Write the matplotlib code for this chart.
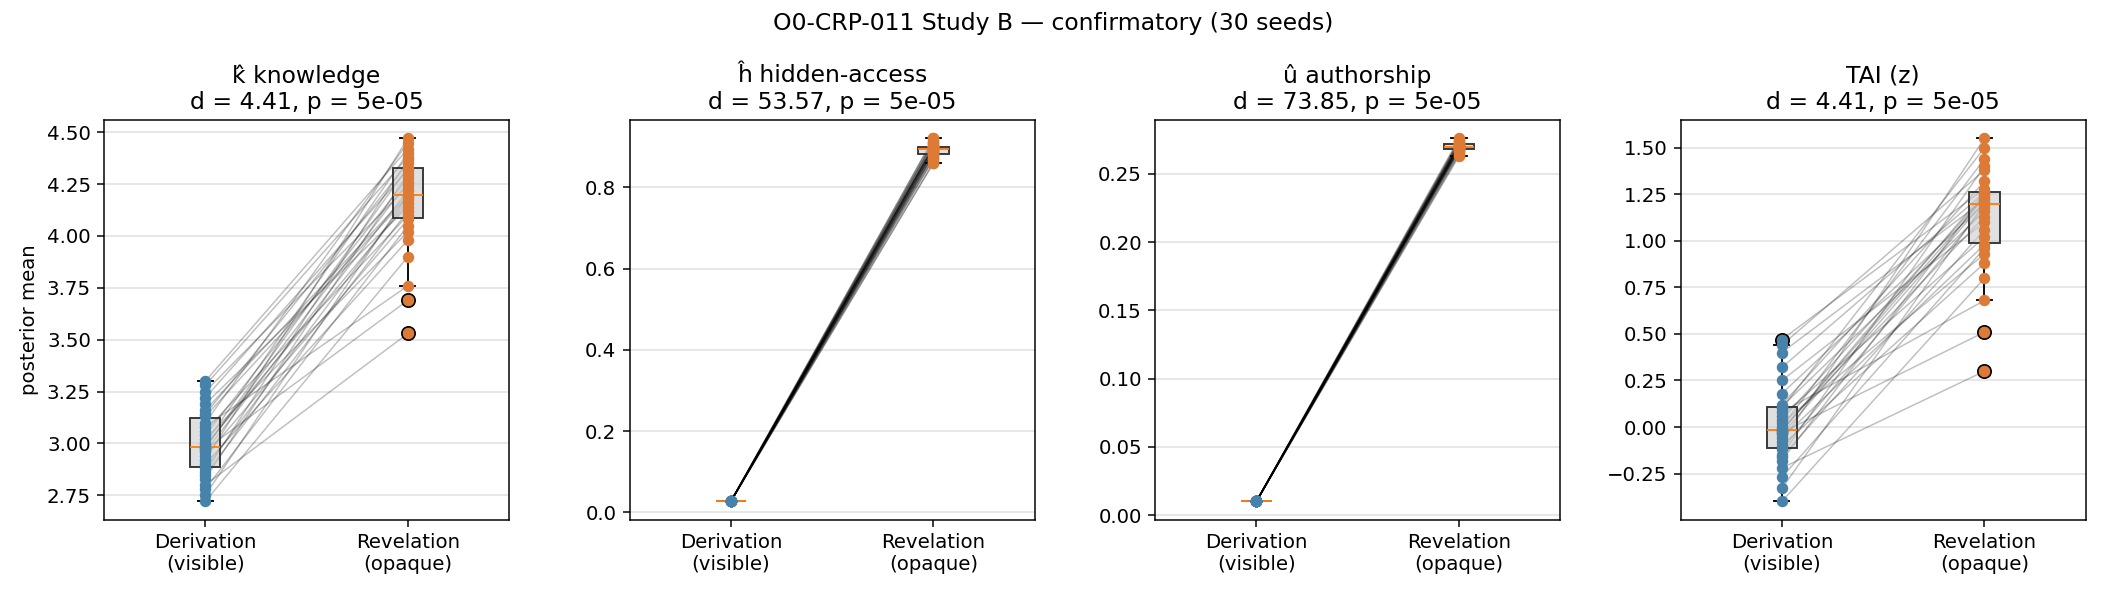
import matplotlib
matplotlib.use("Agg")
import matplotlib.pyplot as plt
import numpy as np

groups = ["Derivation\n(visible)", "Revelation\n(opaque)"]
titles = ["k̂ knowledge\nd = 4.41, p = 5e-05", "ĥ hidden-access\nd = 53.57, p = 5e-05",
          "û authorship\nd = 73.85, p = 5e-05", "TAI (z)\nd = 4.41, p = 5e-05"]

k_der = [2.72,2.75,2.78,2.80,2.83,2.85,2.86,2.88,2.90,2.92,2.94,2.96,2.97,2.98,2.98,
         2.99,3.00,3.02,3.04,3.06,3.08,3.10,3.13,3.14,3.16,3.19,3.22,3.25,3.28,3.30]
k_rev = [3.90,4.20,4.05,3.53,4.30,4.12,4.37,4.18,3.98,4.47,4.08,4.22,3.69,4.33,4.26,
         4.16,4.40,4.02,4.28,4.10,3.76,4.45,4.19,4.35,4.20,4.14,4.32,4.24,4.38,4.42]
h_der = [0.027]*30
h_rev = [0.86,0.88,0.90,0.87,0.91,0.89,0.92,0.895,0.88,0.90,0.875,0.91,0.89,0.90,0.885,
         0.905,0.87,0.895,0.90,0.915,0.88,0.89,0.90,0.86,0.91,0.895,0.885,0.90,0.92,0.89]
u_der = [0.010]*30
u_rev = [0.263,0.268,0.271,0.266,0.274,0.270,0.276,0.269,0.272,0.267,0.270,0.273,0.265,0.271,0.269,
         0.275,0.268,0.270,0.272,0.264,0.271,0.269,0.273,0.270,0.267,0.274,0.270,0.268,0.272,0.271]
t_der = [-0.40,-0.33,-0.27,-0.22,-0.18,-0.16,-0.15,-0.12,-0.10,-0.08,-0.06,-0.04,-0.03,-0.02,-0.02,
         -0.01,0.00,0.02,0.04,0.06,0.08,0.10,0.11,0.12,0.18,0.25,0.32,0.40,0.44,0.47]
t_rev = [0.80,1.20,0.96,0.30,1.25,1.06,1.40,1.18,0.88,1.55,0.98,1.21,0.51,1.26,1.23,
         1.13,1.44,0.93,1.24,1.02,0.68,1.50,1.16,1.32,1.20,1.10,1.26,1.22,1.38,1.28]

data = [(k_der, k_rev), (h_der, h_rev), (u_der, u_rev), (t_der, t_rev)]
BLUE = "#4682a9"
ORANGE = "#dd7a35"

fig, axes = plt.subplots(1, 4, figsize=(15.6, 4.4), dpi=135)
for ax, (d, r), title in zip(axes, data, titles):
    d = np.array(d); r = np.array(r)
    for a, b in zip(d, r):
        ax.plot([1, 2], [a, b], color="black", alpha=0.25, lw=0.8, zorder=1)
    bp = ax.boxplot([d, r], positions=[1, 2], widths=0.15, patch_artist=True,
                    flierprops=dict(marker="o", markerfacecolor=ORANGE, markeredgecolor="black",
                                    markersize=7), zorder=2)
    for p in bp["boxes"]:
        p.set_facecolor((0.8, 0.8, 0.8, 0.6)); p.set_edgecolor("0.2")
    for m in bp["medians"]:
        m.set_color("C1")
    ax.scatter(np.ones(len(d)), d, color=BLUE, s=26, zorder=3)
    ax.scatter(np.full(len(r), 2), r, color=ORANGE, s=26, zorder=3)
    ax.set_xticks([1, 2]); ax.set_xticklabels(groups, fontsize=10.5)
    ax.set_xlim(0.5, 2.5)
    ax.set_title(title, fontsize=12.5)
    ax.yaxis.grid(True, color="0.9", lw=1); ax.set_axisbelow(True)
    ax.tick_params(labelsize=10.5)
axes[0].set_ylabel("posterior mean", fontsize=10.5)
fig.suptitle("O0-CRP-011 Study B — confirmatory (30 seeds)", fontsize=12.5)
fig.tight_layout(w_pad=2.5)
fig.savefig("out.png")
